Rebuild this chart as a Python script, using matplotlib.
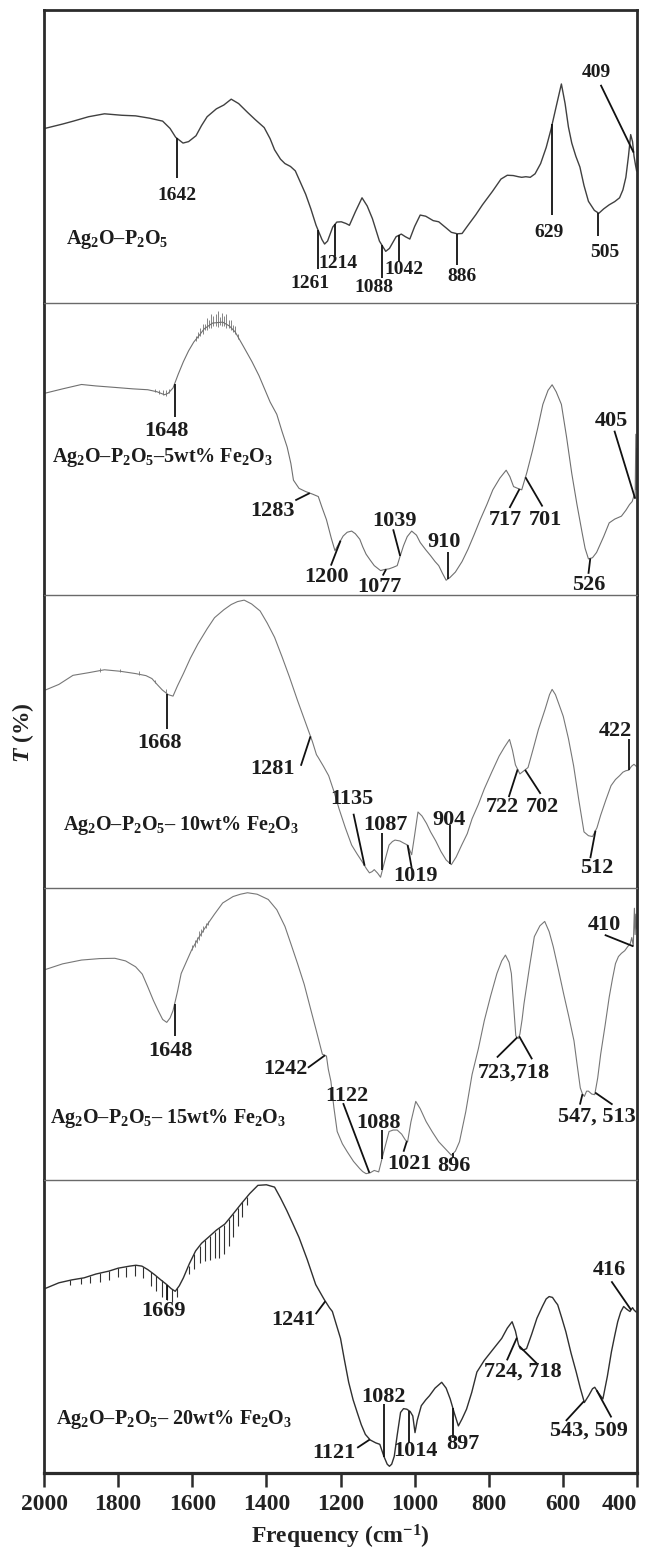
import matplotlib
matplotlib.use("Agg")
import matplotlib.pyplot as plt
import numpy as np

plt.rcParams['font.family'] = ['Liberation Serif', 'DejaVu Serif']
plt.rcParams['font.weight'] = 'bold'
plt.rcParams['mathtext.fontset'] = 'custom'
plt.rcParams['mathtext.rm'] = 'Liberation Serif:bold'
plt.rcParams['mathtext.it'] = 'Liberation Serif:italic:bold'
plt.rcParams['mathtext.default'] = 'rm'

# ---- spectra (wavenumber cm-1, transmittance in arbitrary %) ----
wn_0 = [1998, 1950, 1921, 1880, 1837, 1790, 1753, 1715, 1680, 1660, 1645, 1625, 1610, 1590, 1575,
        1560, 1535, 1515, 1495, 1475, 1451, 1430, 1406, 1390, 1378, 1362, 1350, 1335, 1322, 1308,
        1294, 1280, 1266, 1250, 1243, 1235, 1221, 1210, 1198, 1185, 1176, 1160, 1142, 1128, 1114,
        1095, 1078, 1068, 1050, 1036, 1025, 1013, 1000, 985, 970, 950, 935, 915, 901, 885, 872,
        856, 835, 817, 790, 767, 750, 734, 720, 711, 700, 688, 675, 660, 645, 632, 618, 604, 594,
        585, 576, 565, 554, 543, 531, 515, 503, 490, 475, 460, 447, 438, 430, 423, 417, 412, 408,
        404, 401]
t_0 = [59.5, 61, 62, 63.5, 64.5, 64, 63.8, 63, 62, 59.5, 56.5, 54.5, 55, 57, 60.5,
       63.5, 66.2, 67.5, 69.5, 68, 65, 62.5, 59.8, 56, 52.2, 49, 47.5, 46.5, 45, 41,
       37, 32, 26.4, 21.5, 20, 21, 25.8, 27.5, 27.6, 27, 26.4, 31, 35.8, 33, 28.7,
       21, 17.5, 18.5, 22.5, 23.4, 22.5, 21.7, 26, 29.9, 29.5, 28, 27.6, 25.5, 24, 23.5, 23.6,
       26.4, 30, 33.4, 38, 42.2, 43.5, 43.4, 43, 42.8, 43, 42.8, 44, 47.5, 53, 59.2, 67, 74.7, 68,
       60, 54.5, 50, 46.3, 40, 34.6, 31.5, 30.5, 32, 33.4, 34.5, 35.8, 38.5, 42.8, 50, 57.4, 55, 50,
       47, 45]

wn_5 = [1998, 1950, 1899, 1860, 1809, 1760, 1720, 1695, 1675, 1665, 1652, 1638, 1624, 1610, 1596,
        1580, 1568, 1545, 1518, 1500, 1484, 1462, 1439, 1420, 1406, 1390, 1372, 1358, 1344, 1334,
        1327, 1312, 1294, 1275, 1260, 1250, 1238, 1225, 1215, 1205, 1193, 1182, 1170, 1160, 1148,
        1140, 1131, 1120, 1109, 1092, 1080, 1069, 1058, 1047, 1040, 1030, 1020, 1008, 995, 985,
        970, 957, 945, 935, 925, 915, 905, 890, 872, 856, 840, 823, 805, 789, 770, 753, 743, 733,
        722, 711, 697, 682, 668, 654, 640, 629, 618, 604, 590, 576, 562, 548, 540, 531, 520, 509,
        490, 475, 460, 442, 430, 420, 413, 408, 405, 403, 401.5, 400]
t_5 = [69, 70.5, 72, 71.5, 71, 70.5, 70.2, 69.5, 68.5, 69, 70.8, 75.5, 79.8, 83.5, 86.5,
       89, 91, 93, 93.3, 92, 89.9, 85, 79.8, 75, 70.8, 66, 61.8, 56, 50.6, 45,
       39.3, 36.5, 35.4, 34.5, 33.7, 30, 25.8, 19.5, 15.2, 17.5, 20.2, 21.5, 21.9, 21, 19.1,
       16.5, 14, 12, 10.1, 8.4, 8.8, 9, 9.5, 10.1, 13, 16.9, 20, 21.9, 20.5, 18,
       15.5, 13.5, 11.5, 10.1, 7.5, 5.1, 6, 7.9, 11.5, 15.7, 20.5, 25.8, 31, 36, 40, 42.7, 40.5, 37.1,
       36.5, 36, 42, 49.4, 57, 65.2, 70, 71.9, 69.5, 65.2, 54, 41.6, 31, 21.3, 16, 12.4, 12.8, 14.6,
       20, 24.7, 26, 27, 29, 31, 32, 34, 33, 55, 36, 50]

wn_10 = [1998, 1960, 1922, 1880, 1837, 1795, 1753, 1725, 1709, 1695, 1681, 1665, 1652, 1640, 1624,
         1605, 1585, 1560, 1540, 1515, 1495, 1478, 1460, 1440, 1417, 1398, 1378, 1358, 1338, 1316,
         1294, 1276, 1265, 1260, 1246, 1232, 1218, 1204, 1187, 1170, 1155, 1142, 1130, 1122, 1115,
         1109, 1100, 1092, 1082, 1069, 1060, 1053, 1040, 1030, 1019, 1008, 1000, 991, 980, 968,
         957, 943, 929, 915, 901, 888, 873, 858, 845, 828, 812, 792, 772, 758, 744, 736, 728, 716,
         705, 694, 680, 666, 648, 636, 629, 620, 610, 599, 585, 571, 557, 543, 531, 520, 508, 498,
         484, 470, 458, 447, 438, 430, 422, 415, 408, 402]
t_10 = [67.5, 69.5, 72.6, 73.5, 74.5, 74, 73.2, 72.5, 71.5, 69.5, 67.6, 66, 65.5, 69, 73.2,
        78.5, 83.3, 88.5, 92.3, 95, 96.8, 97.8, 98.3, 97, 94.6, 90.5, 85.6, 79, 72.1, 64,
        56.3, 50, 45.5, 44.5, 41.5, 38.3, 33, 27, 20.5, 14.6, 11.5, 9, 6.5, 5.1, 5.5,
        6.2, 5, 3.6, 8.5, 14.6, 15.8, 16.3, 16, 15.3, 14.6, 11.3, 18, 25.9, 24.5, 22,
        19.1, 16, 12.4, 9.5, 7.9, 10.5, 14.6, 18.5, 23.6, 28.5, 33.8, 39.5, 45, 48, 50.7, 47, 42, 38.9,
        40, 41.1, 47.5, 54.1, 61, 66, 67.8, 66, 62.5, 58.6, 51, 41.7, 30, 19.1, 17.8, 17.5, 20.5, 24.8,
        30, 34.9, 37, 38.3, 39.5, 40, 40.2, 41.5, 42.2, 41.5]

wn_15 = [1998, 1950, 1899, 1850, 1809, 1780, 1753, 1735, 1720, 1705, 1692, 1680, 1669, 1660, 1652,
         1640, 1630, 1615, 1602, 1585, 1563, 1540, 1518, 1490, 1470, 1451, 1425, 1395, 1372, 1350,
         1333, 1316, 1298, 1282, 1265, 1249, 1243, 1238, 1233, 1226, 1218, 1209, 1195, 1182, 1165,
         1148, 1140, 1131, 1120, 1109, 1097, 1085, 1069, 1058, 1047, 1035, 1025, 1019, 1010, 997,
         985, 969, 952, 935, 915, 901, 890, 879, 862, 845, 828, 812, 795, 778, 765, 755, 745, 739,
         733, 727, 720, 716, 710, 705, 690, 677, 662, 649, 637, 626, 612, 598, 584, 570, 562, 553,
         547, 542, 536, 531, 522, 514, 506, 498, 486, 475, 466, 458, 450, 442, 433, 425, 418, 414,
         410, 407, 405, 403, 401]
t_15 = [72, 74, 75.3, 75.8, 75.9, 75, 73, 70.5, 66.1, 61.5, 58, 55, 54, 55.5, 58,
        64.5, 70.7, 75, 78.7, 82.5, 86.8, 91, 94.8, 97, 97.8, 98.3, 97.8, 96, 92.5, 86.8,
        80.5, 74.1, 67, 59.2, 51, 43.1, 42.8, 42.5, 38, 33.9, 25, 16.7, 12.5, 9.8, 6.5,
        4, 3, 2.3, 2.6, 3.4, 2.9, 9, 16.7, 17.2, 17.2, 15.8, 13.8, 13.2, 20, 27,
        24.5, 20.1, 16.5, 13.2, 10.5, 8.6, 10, 13.2, 23.5, 36.2, 45, 54.6, 63, 70.7, 75, 77, 74.5, 70.7,
        60, 49.4, 48.5, 50, 55, 60.3, 73, 83.3, 87, 88.5, 85, 79.9, 72, 63.8, 56, 47.7, 40, 31.6,
        29.5, 28.7, 30.5, 30.5, 29.5, 29.3, 35, 43.1, 53, 62.6, 69, 74.1, 76.5, 77.6, 78.5, 79.9, 81, 83,
        80, 93, 84, 91, 86]

wn_20 = [1998, 1960, 1925, 1892, 1860, 1825, 1800, 1769, 1752, 1736, 1720, 1702, 1685, 1669, 1657,
         1646, 1635, 1624, 1608, 1591, 1575, 1557, 1535, 1512, 1490, 1468, 1445, 1423, 1400, 1378,
         1362, 1345, 1328, 1312, 1290, 1267, 1245, 1230, 1222, 1212, 1200, 1190, 1178, 1166, 1155,
         1144, 1133, 1120, 1105, 1094, 1083, 1074, 1068, 1062, 1055, 1047, 1038, 1030, 1021, 1012,
         1005, 999, 993, 982, 970, 960, 945, 927, 915, 904, 893, 882, 872, 860, 846, 832, 812, 787,
         765, 750, 737, 728, 720, 715, 707, 698, 684, 670, 655, 645, 637, 628, 620, 614, 603, 592,
         578, 564, 553, 542, 530, 520, 514, 505, 492, 480, 469, 460, 452, 444, 436, 428, 419, 412,
         408, 402]
t_20 = [63, 65, 66, 66.7, 68, 69, 70, 70.7, 71, 70.7, 69.5, 67.8, 66, 64.4, 63,
        62.1, 64, 66.7, 71.5, 75.9, 78.5, 80.5, 83, 85.1, 88.5, 92, 95.5, 98.3, 98.5, 97.7,
        94, 89.7, 85, 80.5, 73, 64.4, 59.5, 56.5, 55.2, 51, 46, 39, 31, 25, 20.7,
        16.5, 13.2, 11.3, 10.3, 9.8, 5.7, 3, 2.3, 3, 5.7, 13, 20.7, 22, 21.8, 21,
        19.5, 13.8, 18, 23, 25, 26.4, 29, 31, 29, 25.3, 20.5, 16.1, 18.5, 21.8, 27.5, 34.5, 38.5, 42.5,
        46, 49.5, 51.7, 48.5, 44, 42.5, 42, 42.5, 47.5, 52.9, 57, 59.5, 60.3, 60, 58.5, 57.5, 53, 48.3,
        41, 34.5, 29, 24.1, 26.5, 28.8, 29.3, 27.5, 25.3, 33, 41.4, 47, 51.7, 55, 56.9, 56, 55.2, 56.5,
        55.7, 55]

# fine structure on top of the spectra: narrow lines (cm-1) and their height
hair_wn_5 = [1700, 1690, 1680, 1672, 1662, 1590, 1584, 1578, 1572, 1566, 1560, 1555, 1549, 1543,
             1537, 1531, 1526, 1520, 1514, 1508, 1502, 1496, 1490, 1484, 1476]
hair_amp_5 = [0.8, 1, 1.2, 1.5, 1.2, 1.2, 1.5, 2, 2.5, 1.5, 3, 2, 3.5, 2.5,
              3, 4, 2, 3, 2.5, 3.5, 2, 2.5, 1.5, 2, 1.2]
hair_wn_10 = [1850, 1795, 1745, 1700, 1672]
hair_amp_10 = [0.8, 0.8, 1, 0.8, 1.2]
hair_wn_15 = [1600, 1594, 1588, 1582, 1576, 1570, 1564, 1558]
hair_amp_15 = [1.2, 1.8, 1.5, 2.2, 1.8, 1.5, 1.2, 1]
comb_wn_20 = [1930, 1900, 1875, 1850, 1825, 1800, 1778, 1755, 1733, 1712, 1697, 1683, 1668, 1655,
              1640, 1610, 1595, 1580, 1566, 1553, 1540, 1528, 1515, 1502, 1490, 1478, 1465, 1452]
comb_depth_20 = [1.5, 2, 2.5, 3, 3, 3, 3.5, 3.5, 4, 5, 5, 5.5, 5, 4.5,
                 3, 3, 5, 6, 7, 8, 9, 10, 10, 9, 8, 6, 5, 3]

sample_names = ['Ag$_2$O–P$_2$O$_5$',
                'Ag$_2$O–P$_2$O$_5$–5wt% Fe$_2$O$_3$',
                'Ag$_2$O–P$_2$O$_5$– 10wt% Fe$_2$O$_3$',
                'Ag$_2$O–P$_2$O$_5$– 15wt% Fe$_2$O$_3$',
                'Ag$_2$O–P$_2$O$_5$– 20wt% Fe$_2$O$_3$']

# assigned bands: label text and the band(s) it points at
labels_0 = ['1642', '1261', '1214', '1088', '1042', '886', '629', '505', '409']
marks_0 = [[1642], [1261], [1214], [1088], [1042], [886], [629], [505], [409]]
labels_5 = ['1648', '1283', '1200', '1077', '1039', '910', '717', '701', '526', '405']
marks_5 = [[1648], [1283], [1200], [1077], [1039], [910], [717], [701], [526], [405]]
labels_10 = ['1668', '1281', '1135', '1087', '1019', '904', '722', '702', '512', '422']
marks_10 = [[1668], [1281], [1135], [1087], [1019], [904], [722], [702], [512], [422]]
labels_15 = ['1648', '1242', '1122', '1088', '1021', '896', '723,718', '547, 513', '410']
marks_15 = [[1648], [1242], [1122], [1088], [1021], [896], [723, 718], [547, 513], [410]]
labels_20 = ['1669', '1241', '1121', '1082', '1014', '897', '724, 718', '543, 509', '416']
marks_20 = [[1669], [1241], [1121], [1082], [1014], [897], [724, 718], [543, 509], [416]]

# ---- label placement: text centre and where each leader line starts ----
place_0 = [((1642, 36.5), [(1642, 42.5)]), ((1283, 6.4), [(1261, 11.5)]),
           ((1208, 13.2), [(1214, 15.8)]), ((1110, 5.3), [(1088, 8.5)]),
           ((1030, 11.3), [(1042, 13.8)]), ((872, 8.8), [(886, 12.9)]),
           ((637, 24.0), [(629, 29.9)]), ((488, 17.0), [(505, 22.9)]),
           ((509, 78.5), [(498, 74.4)])]
place_5 = [((1670, 56.2), [(1648, 61)]), ((1383, 28.7), [(1322, 32.4)]),
           ((1238, 6.2), [(1226, 10.1)]), ((1094, 2.8), [(1086, 6.7)]),
           ((1053, 25.3), [(1058, 22.5)]), ((921, 18.0), [(910, 14.6)]),
           ((755, 25.8), [(744, 29.8)]), ((646, 25.8), [(655, 30.3)]),
           ((531, 3.4), [(531, 7.3)]), ((470, 59.6), [(461, 56.2)])]
place_10 = [((1688, 49.5), [(1668, 54.1)]), ((1383, 40.5), [(1307, 41.7)]),
            ((1170, 30.4), [(1165, 25.3)]), ((1080, 21.4), [(1087, 18.6)]),
            ((997, 3.9), [(1008, 6.8)]), ((907, 23.1), [(904, 21.4)]),
            ((764, 27.6), [(746, 31.0)]), ((655, 27.6), [(660, 32.1)]),
            ((509, 6.8), [(526, 10.1)]), ((458, 53.5), [(422, 50.7)])]
place_15 = [((1658, 44.3), [(1648, 49.4)]), ((1350, 37.9), [(1288, 38.5)]),
            ((1184, 28.7), [(1193, 26.4)]), ((1097, 19.5), [(1088, 17.2)]),
            ((1013, 5.7), [(1030, 9.8)]), ((893, 4.9), [(896, 7.8)]),
            ((733, 36.8), [(778, 42.0), (683, 41.4)]),
            ((509, 21.8), [(554, 25.9), (466, 25.9)]),
            ((487, 87.4), [(487, 83.9)])]
place_20 = [((1678, 55.2), [(1669, 59.2)]), ((1328, 52.3), [(1267, 54.3)]),
            ((1217, 6.9), [(1155, 8.6)]), ((1083, 25.9), [(1082, 23.6)]),
            ((997, 7.5), [(1014, 10.3)]), ((871, 9.8), [(897, 12.1)]),
            ((707, 34.5), [(751, 38.5), (670, 37.4)]),
            ((530, 14.4), [(592, 17.8), (469, 19.0)]),
            ((475, 69.5), [(469, 65.5)])]

panels = [
    dict(wn=wn_0, t=t_0, labels=labels_0, marks=marks_0, place=place_0, color='#404040',
         lw=1.0, fs=14, name_xy=(1942, 21.7)),
    dict(wn=wn_5, t=t_5, labels=labels_5, marks=marks_5, place=place_5, color='#707070',
         lw=0.8, fs=16, name_xy=(1978, 47.2), hair=(hair_wn_5, hair_amp_5)),
    dict(wn=wn_10, t=t_10, labels=labels_10, marks=marks_10, place=place_10, color='#777777',
         lw=0.8, fs=16, name_xy=(1950, 21.4), hair=(hair_wn_10, hair_amp_10)),
    dict(wn=wn_15, t=t_15, labels=labels_15, marks=marks_15, place=place_15, color='#777777',
         lw=0.8, fs=16, name_xy=(1983, 21.3), hair=(hair_wn_15, hair_amp_15)),
    dict(wn=wn_20, t=t_20, labels=labels_20, marks=marks_20, place=place_20, color='#303030',
         lw=1.0, fs=16, name_xy=(1968, 18.4), comb=(comb_wn_20, comb_depth_20)),
]

fig, axes = plt.subplots(5, 1, figsize=(6.48, 15.52), dpi=100, sharex=True)
fig.subplots_adjust(left=0.068, right=0.983, top=0.9936, bottom=0.0509, hspace=0)

frame = '#2b2b2b'
for i, (ax, p) in enumerate(zip(axes, panels)):
    wn = np.array(p['wn'], dtype=float)
    t = np.array(p['t'], dtype=float)
    ax.plot(wn, t, color=p['color'], lw=p['lw'])

    # np.interp wants increasing x
    xs, ys = wn[::-1], t[::-1]
    if 'hair' in p:
        hw = np.array(p['hair'][0], dtype=float)
        ha = np.array(p['hair'][1], dtype=float)
        yc = np.interp(hw, xs, ys)
        ax.vlines(hw, yc - 0.4 * ha, yc + ha, color=p['color'], lw=0.6)
    if 'comb' in p:
        cw = np.array(p['comb'][0], dtype=float)
        cd = np.array(p['comb'][1], dtype=float)
        yc = np.interp(cw, xs, ys)
        ax.vlines(cw, yc - cd, yc, color=p['color'], lw=0.8)

    for lab, mk, (txy, starts) in zip(p['labels'], p['marks'], p['place']):
        for m, (lx, ly) in zip(mk, starts):
            ax.plot([lx, m], [ly, np.interp(m, xs, ys)], color='#111111', lw=1.3,
                    solid_capstyle='butt')
        ax.text(txy[0], txy[1], lab, ha='center', va='center', fontsize=p['fs'],
                fontweight='bold', color='#1c1c1c')

    ax.text(p['name_xy'][0], p['name_xy'][1], sample_names[i], ha='left', va='center',
            fontsize=14.5, fontweight='bold', color='#1c1c1c')

    ax.set_xlim(2000, 400)
    ax.set_ylim(0, 100)
    ax.set_yticks([])
    for side in ('left', 'right'):
        ax.spines[side].set_linewidth(2.0)
        ax.spines[side].set_color(frame)
    ax.spines['bottom'].set_visible(i == 4)
    ax.spines['bottom'].set_linewidth(2.3)
    ax.spines['bottom'].set_color(frame)
    if i == 0:
        ax.spines['top'].set_linewidth(2.0)
        ax.spines['top'].set_color(frame)
    else:
        ax.spines['top'].set_linewidth(1.0)
        ax.spines['top'].set_color('#6a6a6a')
    if i < 4:
        ax.tick_params(axis='x', bottom=False, labelbottom=False)

axb = axes[-1]
axb.set_xticks(np.arange(2000, 399, -200))
axb.tick_params(axis='x', direction='out', length=10, width=1.8, color=frame,
                labelsize=17, pad=5, labelcolor='#222222')
# keep the last tick label inside the canvas
axb.get_xticklabels()[-1].set_horizontalalignment('right')
axb.set_xlabel('Frequency (cm$^{-1}$)', fontsize=17, fontweight='bold', labelpad=6,
               color='#222222')
fig.text(0.036, 1 - 733 / 1552, r'$\mathit{T}$ (%)', rotation=90, ha='center', va='center',
         fontsize=17, fontweight='bold', color='#222222')

fig.savefig('out.png', dpi=100)
